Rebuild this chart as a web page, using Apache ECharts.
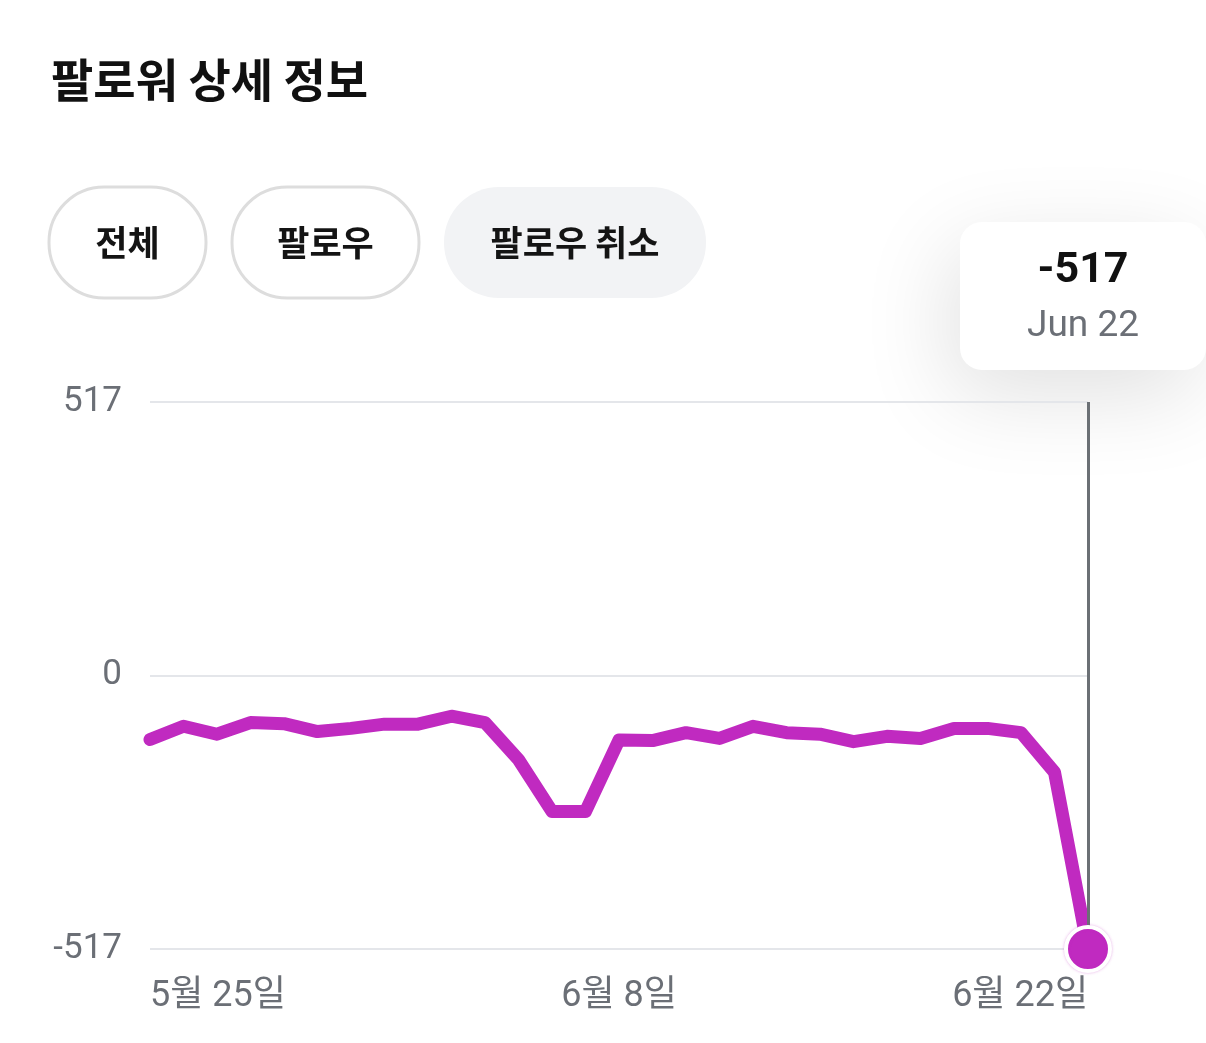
<html>
<head>
    <meta charset="utf-8">
    <script src="https://cdn.jsdelivr.net/npm/echarts@6/dist/echarts.min.js"></script>
    <style>
        html, body { margin: 0; padding: 0; background: #fff; }
        #main { width: 1206px; height: 1043px; }
    </style>
</head>
<body>
    <div id="main"></div>
    <script>
        // 일별 팔로우 취소 (5/25 ~ 6/22)
        var dates = ['5월 25일', '5월 26일', '5월 27일', '5월 28일', '5월 29일', '5월 30일', '5월 31일',
            '6월 1일', '6월 2일', '6월 3일', '6월 4일', '6월 5일', '6월 6일', '6월 7일', '6월 8일',
            '6월 9일', '6월 10일', '6월 11일', '6월 12일', '6월 13일', '6월 14일', '6월 15일',
            '6월 16일', '6월 17일', '6월 18일', '6월 19일', '6월 20일', '6월 21일', '6월 22일'];
        var unfollows = [-121, -96, -111, -89, -91, -106, -100, -92, -92, -77, -89, -159, -257, -257,
            -122, -123, -108, -119, -96, -108, -111, -125, -115, -119, -100, -100, -108, -183, -517];
        var yTicks = [-517, 0, 517];
        var tabs = ['전체', '팔로우', '팔로우 취소'];
        var activeTab = 2;
        var tipDate = 'Jun 22';

        var last = unfollows.length - 1;
        var numFont = "Roboto, 'Noto Sans CJK KR', sans-serif";
        var krFont = "'Noto Sans CJK KR', sans-serif";
        var gray = '#6b6f76';
        var purple = '#c02ac0';

        var myChart = echarts.init(document.getElementById('main'));

        // 탭 버튼 [x, width]
        var tabBoxes = [[49, 157], [232, 187], [444, 262]];
        var tabGraphics = tabs.map(function (t, i) {
            var b = tabBoxes[i];
            var on = i === activeTab;
            return {
                type: 'group',
                children: [{
                    type: 'rect',
                    shape: { x: b[0], y: 187, width: b[1], height: 111, r: 55 },
                    style: on ? { fill: '#f2f3f5' } : { fill: '#fff', stroke: '#dddddd', lineWidth: 3 }
                }, {
                    type: 'text',
                    style: {
                        text: t, x: b[0] + b[1] / 2, y: 243, align: 'center', verticalAlign: 'middle',
                        fontSize: 35, fontWeight: 600, fill: '#141414', fontFamily: krFont
                    }
                }]
            };
        });

        // 툴팁 박스
        var tipGraphic = {
            type: 'group',
            z: 100,
            children: [{
                type: 'rect',
                shape: { x: 960, y: 222, width: 246, height: 148, r: 22 },
                style: { fill: '#fff', shadowBlur: 90, shadowOffsetX: -10, shadowOffsetY: 25, shadowColor: 'rgba(0,0,0,0.12)' }
            }, {
                type: 'text',
                style: {
                    text: String(unfollows[last]), x: 1083, y: 271, align: 'center', verticalAlign: 'middle',
                    fontSize: 43, fontWeight: 'bold', fill: '#111', fontFamily: numFont
                }
            }, {
                type: 'text',
                style: {
                    text: tipDate, x: 1083, y: 327, align: 'center', verticalAlign: 'middle',
                    fontSize: 37, fill: gray, fontFamily: numFont
                }
            }]
        };

        var option = {
            animation: false,
            title: {
                text: '팔로워 상세 정보',
                left: 46,
                top: 52,
                textStyle: { fontSize: 46, fontWeight: 'bold', color: '#111', fontFamily: krFont }
            },
            graphic: tabGraphics.concat([tipGraphic]),
            grid: { left: 150, right: 118, top: 402, bottom: 94 },
            xAxis: {
                type: 'category',
                data: dates,
                boundaryGap: false,
                axisLine: { show: false },
                axisTick: { show: false },
                splitLine: { show: false },
                axisLabel: {
                    interval: function (i) { return i % 14 === 0; },
                    alignMinLabel: 'left',
                    alignMaxLabel: 'right',
                    margin: 30,
                    fontSize: 36,
                    color: gray,
                    fontFamily: numFont
                }
            },
            yAxis: {
                type: 'value',
                min: yTicks[0],
                max: yTicks[2],
                interval: yTicks[2],
                axisLine: { show: false },
                axisTick: { show: false },
                axisLabel: { margin: 28, fontSize: 35, color: gray, fontFamily: numFont },
                splitLine: { lineStyle: { color: '#e4e6ea', width: 2 } }
            },
            series: [{
                type: 'line',
                data: unfollows,
                symbol: 'none',
                z: 3,
                lineStyle: { color: purple, width: 13, cap: 'round', join: 'round' },
                markLine: {
                    silent: true,
                    symbol: 'none',
                    label: { show: false },
                    lineStyle: { color: '#6b7075', width: 3, type: 'solid', opacity: 1 },
                    data: [{ xAxis: last }]
                }
            }, {
                type: 'scatter',
                data: [[last, unfollows[last]]],
                symbol: 'circle',
                symbolSize: 44,
                z: 10,
                zlevel: 1,
                itemStyle: {
                    color: purple,
                    opacity: 1,
                    borderColor: '#fff',
                    borderWidth: 4,
                    shadowBlur: 3,
                    shadowColor: 'rgba(192,42,192,0.35)'
                }
            }]
        };

        myChart.setOption(option);
    </script>
</body>
</html>
